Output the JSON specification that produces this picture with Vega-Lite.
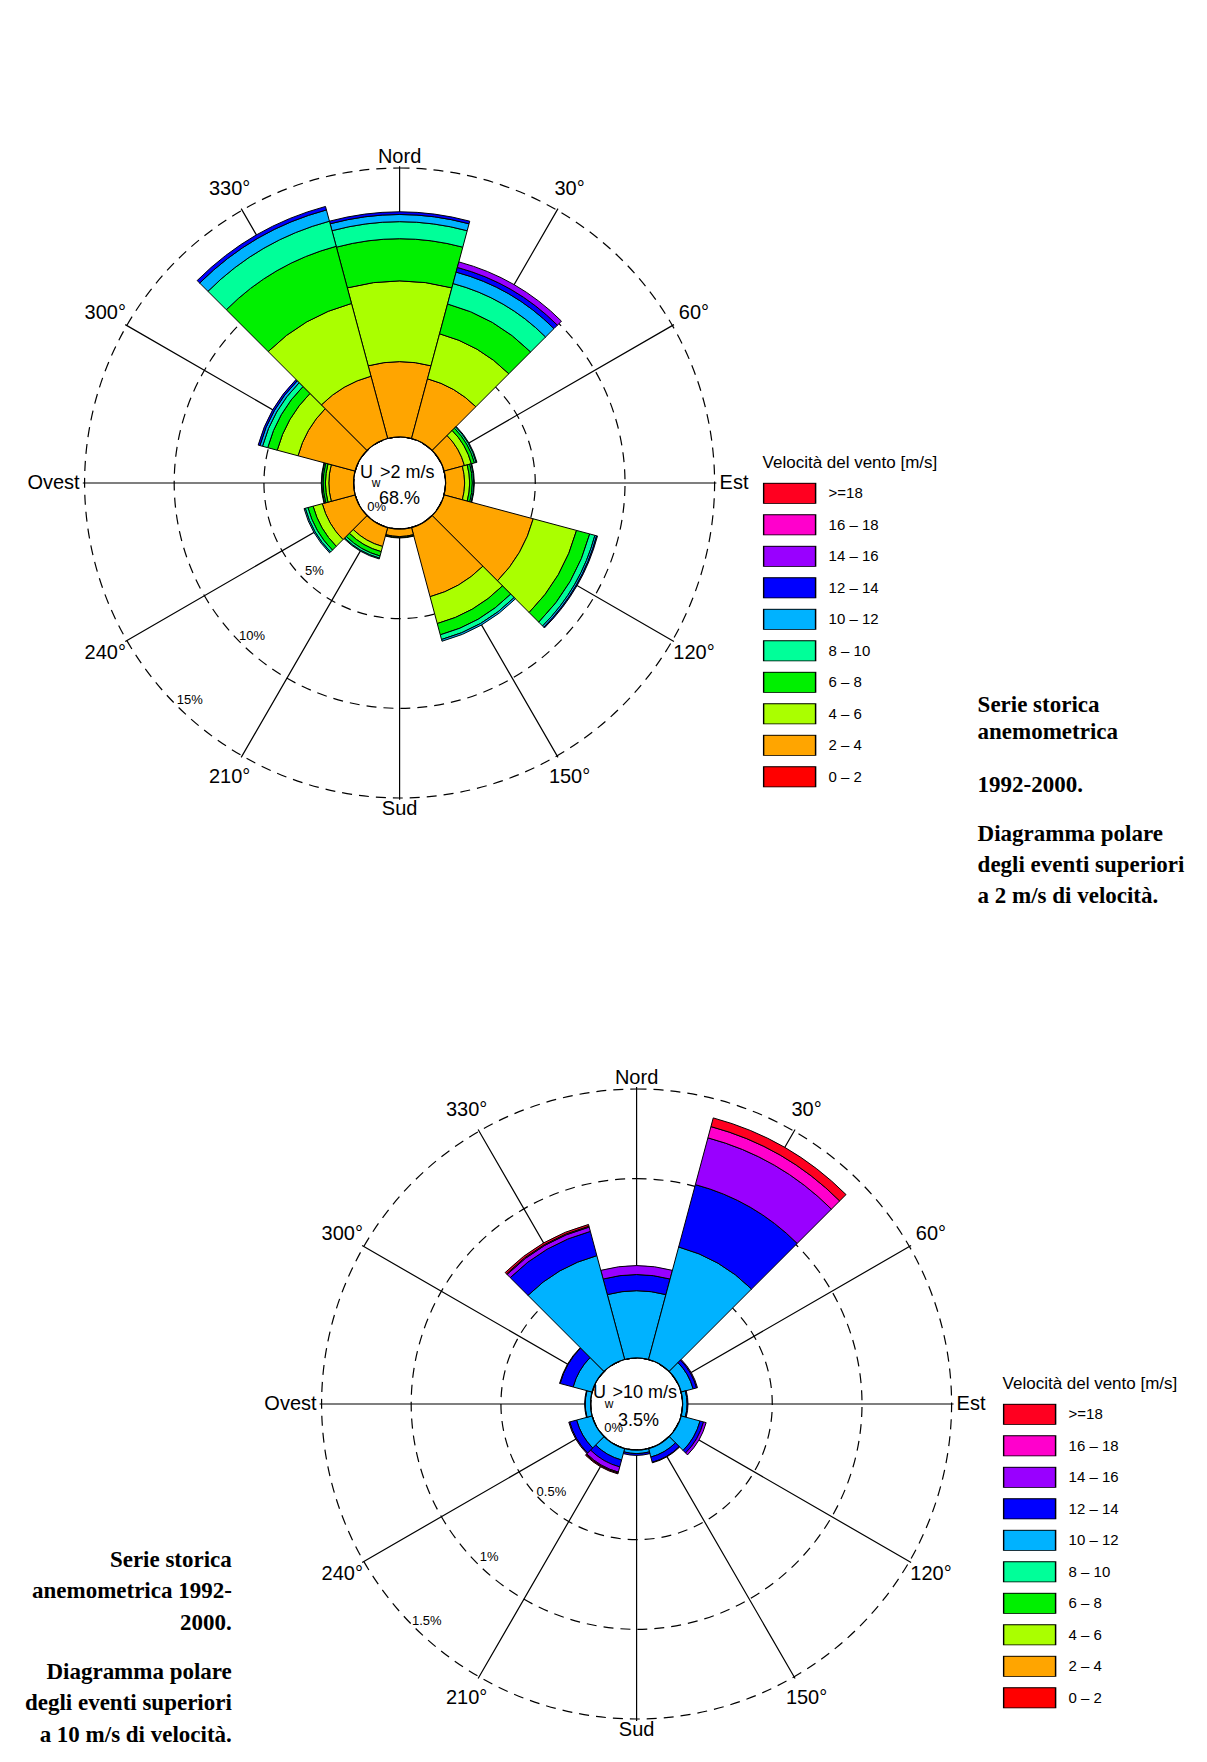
{
  "$schema": "https://vega.github.io/schema/vega-lite/v6.json",
  "padding": {"left": 24.6, "top": 0, "right": 0, "bottom": 0},
  "background": "white",
  "bounds": "flush",
  "spacing": 88,
  "config": {"view": {"stroke": null}, "font": "Liberation Sans"},
  "resolve": {"scale": {"color": "independent", "radius": "independent", "theta": "independent"}, "legend": {"color": "independent"}},
  "datasets": {
    "dirs": [{"dir":0},{"dir":30},{"dir":60},{"dir":90},{"dir":120},{"dir":150},{"dir":180},{"dir":210},{"dir":240},{"dir":270},{"dir":300},{"dir":330}],
    "gradi": [{"dir":30,"lab":"30°"},{"dir":60,"lab":"60°"},{"dir":120,"lab":"120°"},{"dir":150,"lab":"150°"},{"dir":210,"lab":"210°"},{"dir":240,"lab":"240°"},{"dir":300,"lab":"300°"},{"dir":330,"lab":"330°"}],
    "ns": [{"dir":0,"lab":"Nord"},{"dir":180,"lab":"Sud"}],
    "est": [{"dir":90,"lab":"Est"}],
    "ovest": [{"dir":270,"lab":"Ovest"}],
    "cerchiTop": [{"pct":5},{"pct":10},{"pct":15}],
    "cerchiBot": [{"pct":0.5},{"pct":1},{"pct":1.5}],
    "pctTop": [{"pct":0,"lab":"0%"},{"pct":5,"lab":"5%"},{"pct":10,"lab":"10%"},{"pct":15,"lab":"15%"}],
    "pctBot": [{"pct":0,"lab":"0%"},{"pct":0.5,"lab":"0.5%"},{"pct":1,"lab":"1%"},{"pct":1.5,"lab":"1.5%"}],
    "rosaTop": [
      {"dir":0,"a0":-15,"a1":15,"classe":"2 – 4","v":2,"pct":4.2},
      {"dir":0,"a0":-15,"a1":15,"classe":"4 – 6","v":4,"pct":4.5},
      {"dir":0,"a0":-15,"a1":15,"classe":"6 – 8","v":6,"pct":2.35},
      {"dir":0,"a0":-15,"a1":15,"classe":"8 – 10","v":8,"pct":0.95},
      {"dir":0,"a0":-15,"a1":15,"classe":"10 – 12","v":10,"pct":0.4},
      {"dir":0,"a0":-15,"a1":15,"classe":"12 – 14","v":12,"pct":0.15},
      {"dir":30,"a0":15,"a1":45,"classe":"2 – 4","v":2,"pct":3.45},
      {"dir":30,"a0":15,"a1":45,"classe":"4 – 6","v":4,"pct":2.6},
      {"dir":30,"a0":15,"a1":45,"classe":"6 – 8","v":6,"pct":1.72},
      {"dir":30,"a0":15,"a1":45,"classe":"8 – 10","v":8,"pct":1.18},
      {"dir":30,"a0":15,"a1":45,"classe":"10 – 12","v":10,"pct":0.66},
      {"dir":30,"a0":15,"a1":45,"classe":"12 – 14","v":12,"pct":0.27},
      {"dir":30,"a0":15,"a1":45,"classe":"14 – 16","v":14,"pct":0.32},
      {"dir":60,"a0":45,"a1":75,"classe":"2 – 4","v":2,"pct":1.18},
      {"dir":60,"a0":45,"a1":75,"classe":"4 – 6","v":4,"pct":0.4},
      {"dir":60,"a0":45,"a1":75,"classe":"6 – 8","v":6,"pct":0.18},
      {"dir":60,"a0":45,"a1":75,"classe":"8 – 10","v":8,"pct":0.1},
      {"dir":60,"a0":45,"a1":75,"classe":"10 – 12","v":10,"pct":0.04},
      {"dir":90,"a0":75,"a1":105,"classe":"2 – 4","v":2,"pct":1.06},
      {"dir":90,"a0":75,"a1":105,"classe":"4 – 6","v":4,"pct":0.28},
      {"dir":90,"a0":75,"a1":105,"classe":"6 – 8","v":6,"pct":0.15},
      {"dir":90,"a0":75,"a1":105,"classe":"8 – 10","v":8,"pct":0.08},
      {"dir":90,"a0":75,"a1":105,"classe":"10 – 12","v":10,"pct":0.03},
      {"dir":120,"a0":105,"a1":135,"classe":"2 – 4","v":2,"pct":5.15},
      {"dir":120,"a0":105,"a1":135,"classe":"4 – 6","v":4,"pct":2.5},
      {"dir":120,"a0":105,"a1":135,"classe":"6 – 8","v":6,"pct":0.76},
      {"dir":120,"a0":105,"a1":135,"classe":"8 – 10","v":8,"pct":0.3},
      {"dir":120,"a0":105,"a1":135,"classe":"10 – 12","v":10,"pct":0.1},
      {"dir":120,"a0":105,"a1":135,"classe":"12 – 14","v":12,"pct":0.05},
      {"dir":150,"a0":135,"a1":165,"classe":"2 – 4","v":2,"pct":4.0},
      {"dir":150,"a0":135,"a1":165,"classe":"4 – 6","v":4,"pct":1.55},
      {"dir":150,"a0":135,"a1":165,"classe":"6 – 8","v":6,"pct":0.65},
      {"dir":150,"a0":135,"a1":165,"classe":"8 – 10","v":8,"pct":0.27},
      {"dir":150,"a0":135,"a1":165,"classe":"10 – 12","v":10,"pct":0.1},
      {"dir":180,"a0":165,"a1":195,"classe":"2 – 4","v":2,"pct":0.42},
      {"dir":180,"a0":165,"a1":195,"classe":"4 – 6","v":4,"pct":0.05},
      {"dir":180,"a0":165,"a1":195,"classe":"6 – 8","v":6,"pct":0.03},
      {"dir":210,"a0":195,"a1":225,"classe":"2 – 4","v":2,"pct":1.1},
      {"dir":210,"a0":195,"a1":225,"classe":"4 – 6","v":4,"pct":0.3},
      {"dir":210,"a0":195,"a1":225,"classe":"6 – 8","v":6,"pct":0.25},
      {"dir":210,"a0":195,"a1":225,"classe":"8 – 10","v":8,"pct":0.12},
      {"dir":210,"a0":195,"a1":225,"classe":"10 – 12","v":10,"pct":0.05},
      {"dir":240,"a0":225,"a1":255,"classe":"2 – 4","v":2,"pct":1.9},
      {"dir":240,"a0":225,"a1":255,"classe":"4 – 6","v":4,"pct":0.53},
      {"dir":240,"a0":225,"a1":255,"classe":"6 – 8","v":6,"pct":0.3},
      {"dir":240,"a0":225,"a1":255,"classe":"8 – 10","v":8,"pct":0.15},
      {"dir":240,"a0":225,"a1":255,"classe":"10 – 12","v":10,"pct":0.07},
      {"dir":270,"a0":255,"a1":285,"classe":"2 – 4","v":2,"pct":1.38},
      {"dir":270,"a0":255,"a1":285,"classe":"4 – 6","v":4,"pct":0.19},
      {"dir":270,"a0":255,"a1":285,"classe":"6 – 8","v":6,"pct":0.13},
      {"dir":270,"a0":255,"a1":285,"classe":"8 – 10","v":8,"pct":0.07},
      {"dir":270,"a0":255,"a1":285,"classe":"10 – 12","v":10,"pct":0.03},
      {"dir":300,"a0":285,"a1":315,"classe":"2 – 4","v":2,"pct":3.3},
      {"dir":300,"a0":285,"a1":315,"classe":"4 – 6","v":4,"pct":1.2},
      {"dir":300,"a0":285,"a1":315,"classe":"6 – 8","v":6,"pct":0.55},
      {"dir":300,"a0":285,"a1":315,"classe":"8 – 10","v":8,"pct":0.3},
      {"dir":300,"a0":285,"a1":315,"classe":"10 – 12","v":10,"pct":0.15},
      {"dir":300,"a0":285,"a1":315,"classe":"12 – 14","v":12,"pct":0.1},
      {"dir":330,"a0":315,"a1":345,"classe":"2 – 4","v":2,"pct":3.6},
      {"dir":330,"a0":315,"a1":345,"classe":"4 – 6","v":4,"pct":4.2},
      {"dir":330,"a0":315,"a1":345,"classe":"6 – 8","v":6,"pct":3.3},
      {"dir":330,"a0":315,"a1":345,"classe":"8 – 10","v":8,"pct":1.45},
      {"dir":330,"a0":315,"a1":345,"classe":"10 – 12","v":10,"pct":0.65},
      {"dir":330,"a0":315,"a1":345,"classe":"12 – 14","v":12,"pct":0.2}
    ],
    "rosaBot": [
      {"dir":0,"a0":-15,"a1":15,"classe":"10 – 12","v":10,"pct":0.375},
      {"dir":0,"a0":-15,"a1":15,"classe":"12 – 14","v":12,"pct":0.09},
      {"dir":0,"a0":-15,"a1":15,"classe":"14 – 16","v":14,"pct":0.05},
      {"dir":30,"a0":15,"a1":45,"classe":"10 – 12","v":10,"pct":0.65},
      {"dir":30,"a0":15,"a1":45,"classe":"12 – 14","v":12,"pct":0.36},
      {"dir":30,"a0":15,"a1":45,"classe":"14 – 16","v":14,"pct":0.27},
      {"dir":30,"a0":15,"a1":45,"classe":"16 – 18","v":16,"pct":0.065},
      {"dir":30,"a0":15,"a1":45,"classe":">=18","v":18,"pct":0.05},
      {"dir":60,"a0":45,"a1":75,"classe":"10 – 12","v":10,"pct":0.07},
      {"dir":60,"a0":45,"a1":75,"classe":"12 – 14","v":12,"pct":0.02},
      {"dir":60,"a0":45,"a1":75,"classe":"14 – 16","v":14,"pct":0.005},
      {"dir":90,"a0":75,"a1":105,"classe":"10 – 12","v":10,"pct":0.025},
      {"dir":90,"a0":75,"a1":105,"classe":"12 – 14","v":12,"pct":0.005},
      {"dir":120,"a0":105,"a1":135,"classe":"10 – 12","v":10,"pct":0.11},
      {"dir":120,"a0":105,"a1":135,"classe":"12 – 14","v":12,"pct":0.02},
      {"dir":120,"a0":105,"a1":135,"classe":"14 – 16","v":14,"pct":0.015},
      {"dir":150,"a0":135,"a1":165,"classe":"10 – 12","v":10,"pct":0.05},
      {"dir":150,"a0":135,"a1":165,"classe":"12 – 14","v":12,"pct":0.03},
      {"dir":150,"a0":135,"a1":165,"classe":"14 – 16","v":14,"pct":0.003},
      {"dir":180,"a0":165,"a1":195,"classe":"10 – 12","v":10,"pct":0.02},
      {"dir":180,"a0":165,"a1":195,"classe":"12 – 14","v":12,"pct":0.01},
      {"dir":210,"a0":195,"a1":225,"classe":"10 – 12","v":10,"pct":0.067},
      {"dir":210,"a0":195,"a1":225,"classe":"12 – 14","v":12,"pct":0.04},
      {"dir":210,"a0":195,"a1":225,"classe":"14 – 16","v":14,"pct":0.03},
      {"dir":210,"a0":195,"a1":225,"classe":"16 – 18","v":16,"pct":0.005},
      {"dir":210,"a0":195,"a1":225,"classe":">=18","v":18,"pct":0.005},
      {"dir":240,"a0":225,"a1":255,"classe":"10 – 12","v":10,"pct":0.09},
      {"dir":240,"a0":225,"a1":255,"classe":"12 – 14","v":12,"pct":0.04},
      {"dir":240,"a0":225,"a1":255,"classe":"14 – 16","v":14,"pct":0.005},
      {"dir":270,"a0":255,"a1":285,"classe":"10 – 12","v":10,"pct":0.03},
      {"dir":270,"a0":255,"a1":285,"classe":"12 – 14","v":12,"pct":0.003},
      {"dir":300,"a0":285,"a1":315,"classe":"10 – 12","v":10,"pct":0.11},
      {"dir":300,"a0":285,"a1":315,"classe":"12 – 14","v":12,"pct":0.075},
      {"dir":300,"a0":285,"a1":315,"classe":"14 – 16","v":14,"pct":0.003},
      {"dir":330,"a0":315,"a1":345,"classe":"10 – 12","v":10,"pct":0.6},
      {"dir":330,"a0":315,"a1":345,"classe":"12 – 14","v":12,"pct":0.14},
      {"dir":330,"a0":315,"a1":345,"classe":"14 – 16","v":14,"pct":0.025},
      {"dir":330,"a0":315,"a1":345,"classe":"16 – 18","v":16,"pct":0.005},
      {"dir":330,"a0":315,"a1":345,"classe":">=18","v":18,"pct":0.01}
    ]
  },
  "vconcat": [
    {
      "width": 600,
      "height": 966,
      "title": {
        "text": ["Serie storica", "anemometrica", "\u200b", "1992-2000."],
        "subtitle": ["Diagramma polare", "degli eventi superiori", "a 2 m/s di velocità."],
        "orient": "bottom", "anchor": "start", "frame": "group", "align": "left", "baseline": "top",
        "offset": -271.8, "dx": 878,
        "font": "Liberation Serif", "fontSize": 23, "fontWeight": "bold", "color": "black", "lineHeight": 26.5,
        "subtitleFont": "Liberation Serif", "subtitleFontSize": 23, "subtitleFontWeight": "bold", "subtitleColor": "black",
        "subtitleLineHeight": 31.4, "subtitlePadding": 25.9
      },
      "layer": [
        {"data": {"name": "cerchiTop"},
         "mark": {"type": "arc", "filled": false, "stroke": "black", "strokeWidth": 1.2, "strokeDash": [10, 7]},
         "encoding": {
           "theta": {"datum": 0, "type": "quantitative", "scale": {"type": "linear", "domain": [0, 360], "range": [0, 6.283185307179586], "zero": false, "nice": false}},
           "theta2": {"datum": 360},
           "radius": {"field": "pct", "type": "quantitative", "stack": null, "scale": {"type": "linear", "domain": [0, 15], "range": [46, 315], "zero": false, "nice": false}}
         }},
        {"data": {"name": "dirs"},
         "mark": {"type": "arc", "filled": false, "stroke": "black", "strokeWidth": 1.2},
         "encoding": {
           "theta": {"field": "dir", "type": "quantitative", "stack": null},
           "theta2": {"field": "dir"},
           "radius": {"datum": 15.1, "type": "quantitative"}
         }},
        {"data": {"name": "rosaTop"},
         "transform": [{"stack": "pct", "groupby": ["dir"], "sort": [{"field": "v", "order": "ascending"}], "as": ["c0", "c1"]}],
         "mark": {"type": "arc", "stroke": "black", "strokeWidth": 1},
         "encoding": {
           "theta": {"field": "a0", "type": "quantitative", "stack": null},
           "theta2": {"field": "a1"},
           "radius": {"field": "c1", "type": "quantitative", "stack": null},
           "radius2": {"field": "c0"},
           "color": {
             "field": "classe", "type": "nominal",
             "scale": {"domain": [">=18", "16 – 18", "14 – 16", "12 – 14", "10 – 12", "8 – 10", "6 – 8", "4 – 6", "2 – 4", "0 – 2"],
                       "range": ["#FF0020", "#FF00CC", "#9900FF", "#0000FF", "#00B2FF", "#00FF99", "#00F000", "#AAFF00", "#FFA500", "#FF0000"]},
             "legend": {
               "orient": "none", "legendX": 663, "legendY": 455, "direction": "vertical", "padding": 0,
               "title": "Velocità del vento [m/s]", "titleFont": "Liberation Sans", "titleFontSize": 17, "titleFontWeight": "normal", "titleColor": "black", "titlePadding": 10.8, "titleLimit": 400,
               "symbolType": "M-1,-0.4H1V0.4H-1Z", "symbolSize": 2704, "symbolStrokeColor": "black", "symbolStrokeWidth": 1.5, "symbolOpacity": 1,
               "clipHeight": 21,
               "labelFont": "Liberation Sans", "labelFontSize": 15, "labelColor": "black", "labelOffset": 12, "rowPadding": 10.5
             }
           }
         }},
        {"data": {"values": [{}]},
         "mark": {"type": "arc", "fill": "white", "stroke": "black", "strokeWidth": 1.2},
         "encoding": {
           "theta": {"datum": 0, "type": "quantitative"},
           "theta2": {"datum": 360},
           "radius": {"datum": 0, "type": "quantitative"}
         }},
        {"data": {"name": "pctTop"},
         "mark": {"type": "text", "fontSize": 13, "radiusOffset": -13, "color": "black"},
         "encoding": {
           "theta": {"datum": 224, "type": "quantitative"},
           "radius": {"field": "pct", "type": "quantitative", "stack": null},
           "text": {"field": "lab"}
         }},
        {"data": {"name": "gradi"},
         "mark": {"type": "text", "fontSize": 20, "color": "black"},
         "encoding": {
           "theta": {"field": "dir", "type": "quantitative", "stack": null},
           "radius": {"datum": 16.39, "type": "quantitative"},
           "text": {"field": "lab"}
         }},
        {"data": {"name": "ns"},
         "mark": {"type": "text", "fontSize": 20, "color": "black"},
         "encoding": {
           "theta": {"field": "dir", "type": "quantitative", "stack": null},
           "radius": {"datum": 15.61, "type": "quantitative"},
           "text": {"field": "lab"}
         }},
        {"data": {"name": "est"},
         "mark": {"type": "text", "fontSize": 20, "color": "black", "align": "left"},
         "encoding": {
           "theta": {"field": "dir", "type": "quantitative", "stack": null},
           "radius": {"datum": 15.28, "type": "quantitative"},
           "text": {"field": "lab"}
         }},
        {"data": {"name": "ovest"},
         "mark": {"type": "text", "fontSize": 20, "color": "black", "align": "right"},
         "encoding": {
           "theta": {"field": "dir", "type": "quantitative", "stack": null},
           "radius": {"datum": 15.28, "type": "quantitative"},
           "text": {"field": "lab"}
         }},
        {"data": {"values": [{}]}, "mark": {"type": "text", "text": "U", "fontSize": 18, "dx": -33, "dy": -10, "color": "black"}},
        {"data": {"values": [{}]}, "mark": {"type": "text", "text": "w", "fontSize": 12, "dx": -23.5, "dy": 0, "color": "black"}},
        {"data": {"values": [{}]}, "mark": {"type": "text", "text": ">2 m/s", "fontSize": 18, "align": "left", "dx": -19.5, "dy": -10, "color": "black"}},
        {"data": {"values": [{}]}, "mark": {"type": "text", "text": "68.%", "fontSize": 18, "dx": 0, "dy": 16, "color": "black"}}
      ]
    },
    {
      "width": 1074,
      "height": 700,
      "title": {
        "text": ["Serie storica", "anemometrica 1992-", "2000."],
        "subtitle": ["Diagramma polare", "degli eventi superiori", "a 10 m/s di velocità."],
        "orient": "bottom", "anchor": "start", "frame": "group", "align": "right", "baseline": "top",
        "offset": -205, "dx": 132.2,
        "font": "Liberation Serif", "fontSize": 23, "fontWeight": "bold", "color": "black", "lineHeight": 31.4,
        "subtitleFont": "Liberation Serif", "subtitleFontSize": 23, "subtitleFontWeight": "bold", "subtitleColor": "black",
        "subtitleLineHeight": 31.4, "subtitlePadding": 26
      },
      "layer": [
        {"data": {"name": "cerchiBot"},
         "mark": {"type": "arc", "filled": false, "stroke": "black", "strokeWidth": 1.2, "strokeDash": [10, 7]},
         "encoding": {
           "theta": {"datum": 0, "type": "quantitative", "scale": {"type": "linear", "domain": [0, 360], "range": [0, 6.283185307179586], "zero": false, "nice": false}},
           "theta2": {"datum": 360},
           "radius": {"field": "pct", "type": "quantitative", "stack": null, "scale": {"type": "linear", "domain": [0, 1.5], "range": [46, 315], "zero": false, "nice": false}}
         }},
        {"data": {"name": "dirs"},
         "mark": {"type": "arc", "filled": false, "stroke": "black", "strokeWidth": 1.2},
         "encoding": {
           "theta": {"field": "dir", "type": "quantitative", "stack": null},
           "theta2": {"field": "dir"},
           "radius": {"datum": 1.511, "type": "quantitative"}
         }},
        {"data": {"name": "rosaBot"},
         "transform": [{"stack": "pct", "groupby": ["dir"], "sort": [{"field": "v", "order": "ascending"}], "as": ["c0", "c1"]}],
         "mark": {"type": "arc", "stroke": "black", "strokeWidth": 1},
         "encoding": {
           "theta": {"field": "a0", "type": "quantitative", "stack": null},
           "theta2": {"field": "a1"},
           "radius": {"field": "c1", "type": "quantitative", "stack": null},
           "radius2": {"field": "c0"},
           "color": {
             "field": "classe", "type": "nominal",
             "scale": {"domain": [">=18", "16 – 18", "14 – 16", "12 – 14", "10 – 12", "8 – 10", "6 – 8", "4 – 6", "2 – 4", "0 – 2"],
                       "range": ["#FF0020", "#FF00CC", "#9900FF", "#0000FF", "#00B2FF", "#00FF99", "#00F000", "#AAFF00", "#FFA500", "#FF0000"]},
             "legend": {
               "orient": "none", "legendX": 903, "legendY": 322, "direction": "vertical", "padding": 0,
               "title": "Velocità del vento [m/s]", "titleFont": "Liberation Sans", "titleFontSize": 17, "titleFontWeight": "normal", "titleColor": "black", "titlePadding": 10.8, "titleLimit": 400,
               "symbolType": "M-1,-0.4H1V0.4H-1Z", "symbolSize": 2704, "symbolStrokeColor": "black", "symbolStrokeWidth": 1.5, "symbolOpacity": 1,
               "clipHeight": 21,
               "labelFont": "Liberation Sans", "labelFontSize": 15, "labelColor": "black", "labelOffset": 12, "rowPadding": 10.5
             }
           }
         }},
        {"data": {"values": [{}]},
         "mark": {"type": "arc", "fill": "white", "stroke": "black", "strokeWidth": 1.2},
         "encoding": {
           "theta": {"datum": 0, "type": "quantitative"},
           "theta2": {"datum": 360},
           "radius": {"datum": 0, "type": "quantitative"}
         }},
        {"data": {"name": "pctBot"},
         "mark": {"type": "text", "fontSize": 13, "radiusOffset": -13, "color": "black"},
         "encoding": {
           "theta": {"datum": 224, "type": "quantitative"},
           "radius": {"field": "pct", "type": "quantitative", "stack": null},
           "text": {"field": "lab"}
         }},
        {"data": {"name": "gradi"},
         "mark": {"type": "text", "fontSize": 20, "color": "black"},
         "encoding": {
           "theta": {"field": "dir", "type": "quantitative", "stack": null},
           "radius": {"datum": 1.639, "type": "quantitative"},
           "text": {"field": "lab"}
         }},
        {"data": {"name": "ns"},
         "mark": {"type": "text", "fontSize": 20, "color": "black"},
         "encoding": {
           "theta": {"field": "dir", "type": "quantitative", "stack": null},
           "radius": {"datum": 1.561, "type": "quantitative"},
           "text": {"field": "lab"}
         }},
        {"data": {"name": "est"},
         "mark": {"type": "text", "fontSize": 20, "color": "black", "align": "left"},
         "encoding": {
           "theta": {"field": "dir", "type": "quantitative", "stack": null},
           "radius": {"datum": 1.528, "type": "quantitative"},
           "text": {"field": "lab"}
         }},
        {"data": {"name": "ovest"},
         "mark": {"type": "text", "fontSize": 20, "color": "black", "align": "right"},
         "encoding": {
           "theta": {"field": "dir", "type": "quantitative", "stack": null},
           "radius": {"datum": 1.528, "type": "quantitative"},
           "text": {"field": "lab"}
         }},
        {"data": {"values": [{}]}, "mark": {"type": "text", "text": "U", "fontSize": 18, "dx": -37, "dy": -10.5, "color": "black"}},
        {"data": {"values": [{}]}, "mark": {"type": "text", "text": "w", "fontSize": 12, "dx": -27.5, "dy": 0, "color": "black"}},
        {"data": {"values": [{}]}, "mark": {"type": "text", "text": ">10 m/s", "fontSize": 18, "align": "left", "dx": -24, "dy": -10.5, "color": "black"}},
        {"data": {"values": [{}]}, "mark": {"type": "text", "text": "3.5%", "fontSize": 18, "dx": 2, "dy": 17, "color": "black"}}
      ]
    }
  ]
}
